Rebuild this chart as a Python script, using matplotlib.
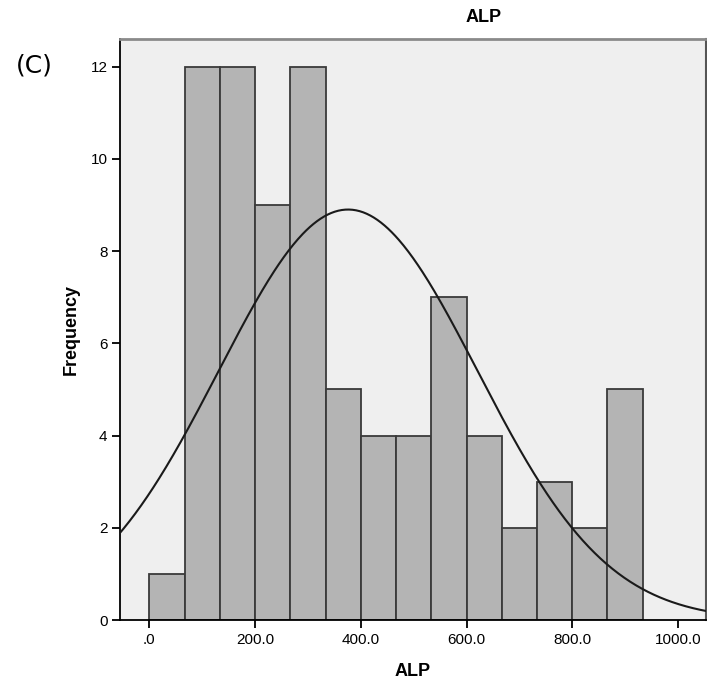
import matplotlib
matplotlib.use("Agg")
import matplotlib.pyplot as plt
import numpy as np

# histograma do ALP (14 classes de largura 66.67)
bin_inicio = 0.0
bin_largura = 1000.0 / 15
contagens = [1, 12, 12, 9, 12, 5, 4, 4, 7, 4, 2, 3, 2, 5]

# curva normal ajustada
media = 376.0
desvio = 245.0

x_ticks = [0, 200, 400, 600, 800, 1000]
x_rotulos = [".0", "200.0", "400.0", "600.0", "800.0", "1000.0"]
y_ticks = [0, 2, 4, 6, 8, 10, 12]

plt.rcParams['font.family'] = ['Liberation Sans', 'DejaVu Sans']

fig = plt.figure(figsize=(7.07, 6.88), dpi=100)
ax = fig.add_axes([120 / 707, 68 / 688, 586 / 707, 581 / 688])
ax.set_facecolor("#efefef")

# barras
bordas = bin_inicio + bin_largura * np.arange(len(contagens))
ax.bar(bordas, contagens, width=bin_largura, align="edge",
       color="#b4b4b4", edgecolor="#3a3a3a", linewidth=1.3, zorder=2)

# curva normal escalada pelo total de casos
n = sum(contagens)
xs = np.linspace(-60, 1060, 500)
ys = n * bin_largura / (desvio * np.sqrt(2 * np.pi)) * np.exp(-0.5 * ((xs - media) / desvio) ** 2)
ax.plot(xs, ys, color="#1a1a1a", linewidth=1.5, zorder=3)

ax.set_xlim(-55.4, 1053)
ax.set_ylim(0, 12.6)
ax.set_xticks(x_ticks)
ax.set_xticklabels(x_rotulos)
ax.set_yticks(y_ticks)
ax.tick_params(axis="both", direction="out", length=6, width=1.3,
               labelsize=11, colors="black", pad=3)

# molduras
ax.spines["left"].set_color("black")
ax.spines["bottom"].set_color("black")
ax.spines["left"].set_linewidth(1.3)
ax.spines["bottom"].set_linewidth(1.3)
ax.spines["top"].set_color("#8a8a8a")
ax.spines["top"].set_linewidth(2)
ax.spines["right"].set_color("#555555")
ax.spines["right"].set_linewidth(1.5)

ax.set_xlabel("ALP", fontsize=13, fontweight="bold", labelpad=12)
ax.set_ylabel("Frequency", fontsize=13, fontweight="bold", labelpad=8)

fig.text(484 / 707, 1 - 17 / 688, "ALP", fontsize=13, fontweight="bold",
         ha="center", va="center")
fig.text(34 / 707, 1 - 65 / 688, "(C)", fontsize=18, family="DejaVu Sans",
         ha="center", va="center")

fig.savefig("out.png", dpi=100)
